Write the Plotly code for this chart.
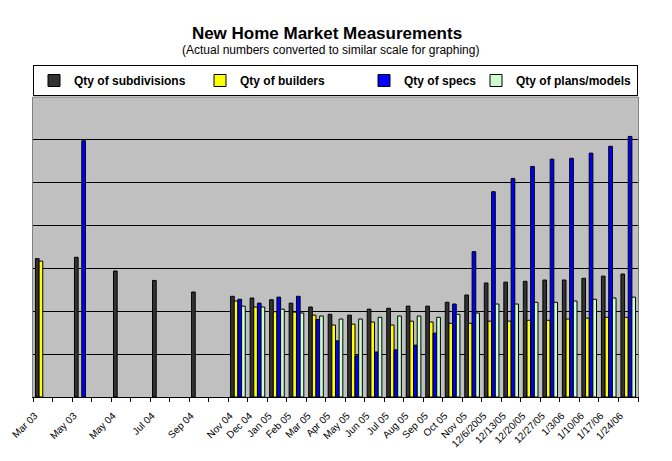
import plotly.graph_objects as go

# categories (blank slots are empty months in the original sheet)
periods = ["Mar 03", " ", "May 03", "  ", "May 04", "   ", "Jul 04", "    ",
           "Sep 04", "     ", "Nov 04", "Dec 04", "Jan 05", "Feb 05", "Mar 05",
           "Apr 05", "May 05", "Jun 05", "Jul 05", "Aug 05", "Sep 05", "Oct 05",
           "Nov 05", "12/6/2005", "12/13/05", "12/20/05", "12/27/05", "1/3/06",
           "1/10/06", "1/17/06", "1/24/06"]

# values, already on the "similar scale"
subdivisions = [3.23, None, 3.26, None, 2.94, None, 2.72, None, 2.45, None,
                2.35, 2.31, 2.27, 2.19, 2.10, 1.93, 1.91, 2.05, 2.07, 2.12, 2.12,
                2.21, 2.38, 2.66, 2.68, 2.70, 2.73, 2.73, 2.77, 2.82, 2.87]
builders = [3.17, None, None, None, None, None, None, None, None, None,
            2.24, 2.10, 1.99, 1.98, 1.91, 1.68, 1.70, 1.75, 1.68, 1.77, 1.75,
            1.72, 1.72, 1.77, 1.77, 1.79, 1.79, 1.82, 1.84, 1.86, 1.86]
specs = [None, None, 5.98, None, None, None, None, None, None, None,
         2.28, 2.19, 2.33, 2.35, 1.81, 1.31, 0.96, 1.05, 1.10, 1.21, 1.49,
         2.17, 3.39, 4.79, 5.10, 5.38, 5.55, 5.57, 5.69, 5.85, 6.08]
plans = [None, None, None, None, None, None, None, None, None, None,
         2.12, 2.10, 2.05, 1.96, 1.89, 1.82, 1.82, 1.86, 1.89, 1.89, 1.86,
         1.93, 1.96, 2.17, 2.17, 2.21, 2.21, 2.24, 2.28, 2.31, 2.33]

series = [
    ("Qty of subdivisions", subdivisions, "#333333", 121),
    ("Qty of builders", builders, "#FFFF00", 119),
    ("Qty of specs", specs, "#0000FF", 67),
    ("Qty of plans/models", plans, "#CCFFCC", 116),
]

font = "Arial, Liberation Sans, sans-serif"

fig = go.Figure()
for name, vals, color, lw in series:
    fig.add_trace(go.Bar(
        x=periods, y=vals, name=name,
        marker=dict(color=color, line=dict(color="black", width=1)),
        legendwidth=lw,
    ))

# the page body adds an 8px margin, so the figure is 8px smaller each way
fig.update_layout(
    width=664, height=453,
    margin=dict(l=25, r=34, t=89, b=64),
    paper_bgcolor="white",
    plot_bgcolor="#C0C0C0",
    barmode="group",
    bargap=0.25,
    bargroupgap=0,
    font=dict(family=font, color="black"),
    title=dict(text="<b>New Home Market Measurements</b>",
               x=0.4804, xanchor="center", y=1 - 25 / 453, yanchor="middle",
               font=dict(size=17, family=font)),
    showlegend=True,
    legend=dict(orientation="h", x=0, xanchor="left",
                y=1.1067, yanchor="top",
                bgcolor="white", bordercolor="black", borderwidth=1,
                font=dict(size=12, family=font, weight="bold"),
                traceorder="normal"),
    annotations=[dict(text="(Actual numbers converted to similar scale for graphing)",
                      xref="paper", yref="paper", x=0.491, y=1.155,
                      xanchor="center", yanchor="middle", showarrow=False,
                      font=dict(size=12, family=font))],
    shapes=[dict(type="line", xref="paper", yref="paper", x0=0, x1=1, y0=1, y1=1,
                 line=dict(color="#808080", width=1), layer="above")],
)

fig.update_xaxes(
    type="category",
    automargin=False,
    tickangle=-45,
    tickfont=dict(size=10, family=font),
    ticklabelstandoff=8,
    ticklabelshift=-8,
    tickson="boundaries",
    ticks="outside", ticklen=4, tickcolor="black", tickwidth=1,
    showline=True, linecolor="black", linewidth=1,
    showgrid=False,
)
fig.update_yaxes(
    range=[0, 7], dtick=1,
    automargin=False,
    showticklabels=False,
    showgrid=True, gridcolor="black", gridwidth=1,
    zeroline=False,
    showline=True, linecolor="#808080", linewidth=1, mirror=True,
    ticks="",
)

fig.write_html("out.html")
